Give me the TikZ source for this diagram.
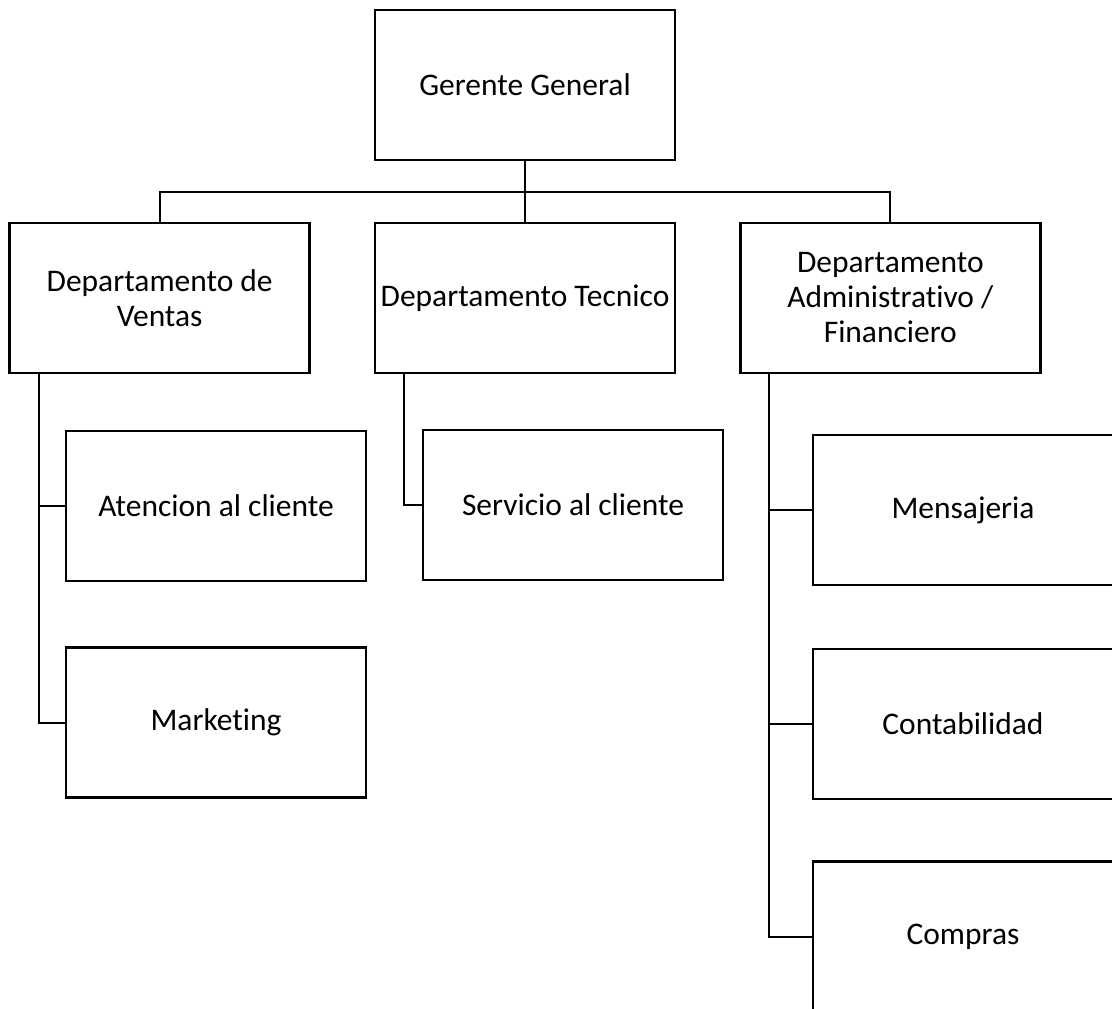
\documentclass[tikz,border=0pt]{standalone}
\usepackage{fontspec}
\setmainfont{Carlito}[Ligatures=NoCommon]
\usetikzlibrary{positioning}

\begin{document}
\begin{tikzpicture}[x=0.75pt,y=-0.75pt,
  font=\fontsize{23.6pt}{26.25pt}\selectfont,
  unit/.style={draw, line width=2pt, minimum width=225pt, minimum height=112.5pt, inner sep=1pt, align=center},
  link/.style={line width=1.6pt},
]
\clip (0,0) rectangle (1112,1008);

\node[unit] (gerente) at (525,85) {Gerente General};

\node[unit] (tecnico) at (525,298) {Departamento Tecnico};
\node[unit,left=47pt of tecnico] (ventas) {Departamento de\\Ventas};
\node[unit,right=47pt of tecnico] (admin) {Departamento\\Administrativo /\\Financiero};

\node[unit] (atencion) at (216,506) {Atencion al cliente};
\node[unit,below=48pt of atencion] (marketing) {Marketing};

\node[unit] (servicio) at (573,505) {Servicio al cliente};

\node[unit] (mensajeria) at (963,510) {Mensajeria};
\node[unit,below=46pt of mensajeria] (contabilidad) {Contabilidad};
\node[unit,below=45pt of contabilidad] (compras) {Compras};

% top level
\coordinate (bus) at (525,192);
\draw[link] (gerente) -- (tecnico);
\draw[link] (bus) -| (ventas.north);
\draw[link] (bus) -| (admin.north);

% sub units
\coordinate (ventas trunk) at ([xshift=23pt]ventas.south west);
\coordinate (tecnico trunk) at ([xshift=22.5pt]tecnico.south west);
\coordinate (admin trunk) at ([xshift=22.5pt]admin.south west);
\draw[link] (ventas trunk) |- (atencion.west);
\draw[link] (ventas trunk) |- (marketing.west);
\draw[link] (tecnico trunk) |- (servicio.west);
\draw[link] (admin trunk) |- (mensajeria.west);
\draw[link] (admin trunk) |- (contabilidad.west);
\draw[link] (admin trunk) |- (compras.west);

\end{tikzpicture}
\end{document}
